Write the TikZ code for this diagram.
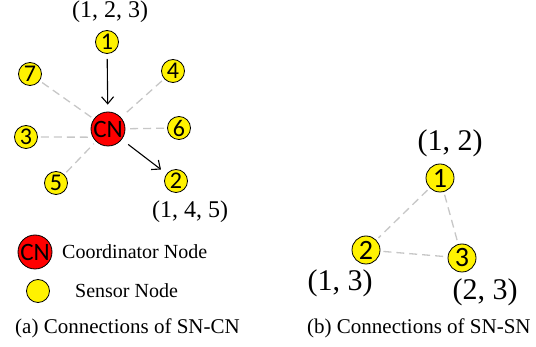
\documentclass[tikz,border=0pt]{standalone}
\usepackage{fontspec}
\setmainfont{Liberation Serif}
\newfontfamily\nodefont{Carlito}
\usetikzlibrary{arrows.meta}

\begin{document}
\begin{tikzpicture}[x=1pt,y=-1pt,
  sn/.style={circle,draw=black,line width=0.8pt,fill=yellow,minimum size=23pt,inner sep=0pt,
    font=\nodefont\fontsize{24}{24}\selectfont},
  snb/.style={sn,minimum size=28pt,font=\nodefont\fontsize{28}{28}\selectfont},
  cn/.style={circle,draw=black,line width=0.8pt,fill=red,minimum size=34pt,inner sep=0pt,
    font=\nodefont\fontsize{25}{25}\selectfont},
  link/.style={draw=black!22,line width=1.3pt,dash pattern=on 8pt off 5pt,shorten >=3pt,shorten <=3pt},
  msg/.style={draw=black,line width=1.1pt,-{Straight Barb[length=7pt,width=12pt]}},
  tup/.style={inner sep=0pt,font=\fontsize{24}{24}\selectfont},
  tupb/.style={inner sep=0pt,font=\fontsize{30}{30}\selectfont},
  legend/.style={inner sep=0pt,anchor=west,font=\fontsize{20}{20}\selectfont},
  caption/.style={inner sep=0pt,anchor=west,font=\fontsize{21}{21}\selectfont}]
\useasboundingbox (0,0) rectangle (536,347);

% (a) sensor nodes around the coordinator
\node[cn] (cn) at (108,129) {CN};
\node[sn] (a1) at (107,42) {1};
\node[sn] (a2) at (176,181) {2};
\node[sn] (a3) at (26,137) {3};
\node[sn] (a4) at (173,71) {4};
\node[sn] (a5) at (56,183) {5};
\node[sn] (a6) at (179,128) {6};
\node[sn] (a7) at (30,74) {7};

\foreach \n in {a4,a5,a6,a7}
  \draw[link] (\n) -- (cn);
\draw[link] (a3) -- (cn.208);
\draw[msg,shorten <=5pt,shorten >=7pt] (a1) -- (cn);
\draw[msg,shorten <=8pt,shorten >=7pt] (cn) -- (a2);

\node[tup] (t1) at (110,12) {(1, 2, 3)};
\node[tup] (t2) at (190,212) {(1, 4, 5)};

% legend
\node[cn] (lcn) at (35,252) {CN};
\node[legend] (lcnt) at (62,252) {Coordinator Node};
\node[sn] (lsn) at (38,291) {};
\node[legend] (lsnt) at (75,291) {Sensor Node};

\node[caption] (capa) at (15,328) {(a) Connections of SN-CN};

% (b) sensor nodes linked to each other
\node[snb] (b1) at (440,178) {1};
\node[snb] (b2) at (366,250) {2};
\node[snb] (b3) at (462,258) {3};
\draw[link] (b1) -- (b2);
\draw[link] (b1) -- (b3);
\draw[link] (b2) -- (b3);

\node[tupb] (u1) at (450,143) {(1, 2)};
\node[tupb] (u2) at (340,283) {(1, 3)};
\node[tupb] (u3) at (485,292) {(2, 3)};

\node[caption] (capb) at (307,328) {(b) Connections of SN-SN};
\end{tikzpicture}
\end{document}
